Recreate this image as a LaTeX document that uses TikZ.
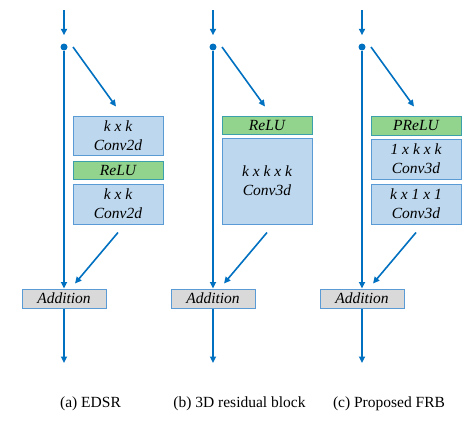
\documentclass[tikz,border=0pt]{standalone}
\usepackage{fontspec}
\setmainfont{Liberation Serif}[ItalicFont={Liberation Serif Italic}]
\usetikzlibrary{arrows.meta}
\definecolor{flowblue}{RGB}{0,112,192}
\definecolor{convfill}{RGB}{189,215,238}
\definecolor{convedge}{RGB}{91,155,213}
\definecolor{actfill}{RGB}{146,212,142}
\definecolor{actedge}{RGB}{60,160,170}
\definecolor{addfill}{RGB}{217,217,217}

\begin{document}
\begin{tikzpicture}[x=1pt, y=-1pt, every node/.style={font=\fontsize{15.5}{19}\selectfont},
	flow/.style={flowblue, line width=1.6pt, -{Triangle[length=6.5pt,width=6pt]}},
	conv/.style={draw=convedge, fill=convfill, line width=1pt, minimum width=90pt, inner sep=0pt, align=center, font=\fontsize{15.5}{19}\selectfont\itshape},
	act/.style={conv, draw=actedge, fill=actfill},
	addbox/.style={conv, fill=addfill, minimum width=84pt, minimum height=19pt},
	split/.style={circle, fill=flowblue, inner sep=0pt, minimum size=7pt}]
	\useasboundingbox (0,0) rectangle (476,423);
	% (a) EDSR
	\node[conv, minimum height=39pt] (a-in) at (118,135.5) {k x k\\Conv2d};
	\node[act, minimum height=18pt] (a-relu) at (118,170) {ReLU};
	\node[conv, minimum height=40pt] (a-out) at (118,204) {k x k\\Conv2d};
	% (b) 3D residual block
	\node[act, minimum height=18pt] (b-in) at (267,125) {ReLU};
	\node[conv, minimum height=86pt] (b-out) at (267,181) {k x k x k\\Conv3d};
	% (c) proposed FRB
	\node[act, minimum height=19pt] (c-in) at (416,125.5) {PReLU};
	\node[conv, minimum height=40pt] (c-mid) at (416,159) {1 x k x k\\Conv3d};
	\node[conv, minimum height=40pt] (c-out) at (416,204) {k x 1 x 1\\Conv3d};
	% skip path, addition and arrows of each block
	\foreach \c/\x in {a/64, b/213, c/362} {
		\coordinate (\c0) at (\x,10);
		\node[split] (\c1) at (\x,47) {};
		\node[addbox] (\c5) at (\x,298.5) {Addition};
		\coordinate (\c6) at (\x,363);
		\draw[flow, shorten >=8pt] (\c0) -- (\c1);
		\draw[flow] (\c1) -- (\c5);
		\draw[flow] (\c5) -- (\c6);
		\draw[flow] ([xshift=9pt]\c1.center) -- ([xshift=-2pt, yshift=9pt]\c-in.north);
		\draw[flow] ([yshift=-8pt]\c-out.south) -- ([xshift=11pt, yshift=5pt]\c5.north);
	}
	\node (acap) at (90.5,404) {(a) EDSR};
	\node (bcap) at (239.5,404) {(b) 3D residual block};
	\node (ccap) at (389,404) {(c) Proposed FRB};
\end{tikzpicture}
\end{document}
